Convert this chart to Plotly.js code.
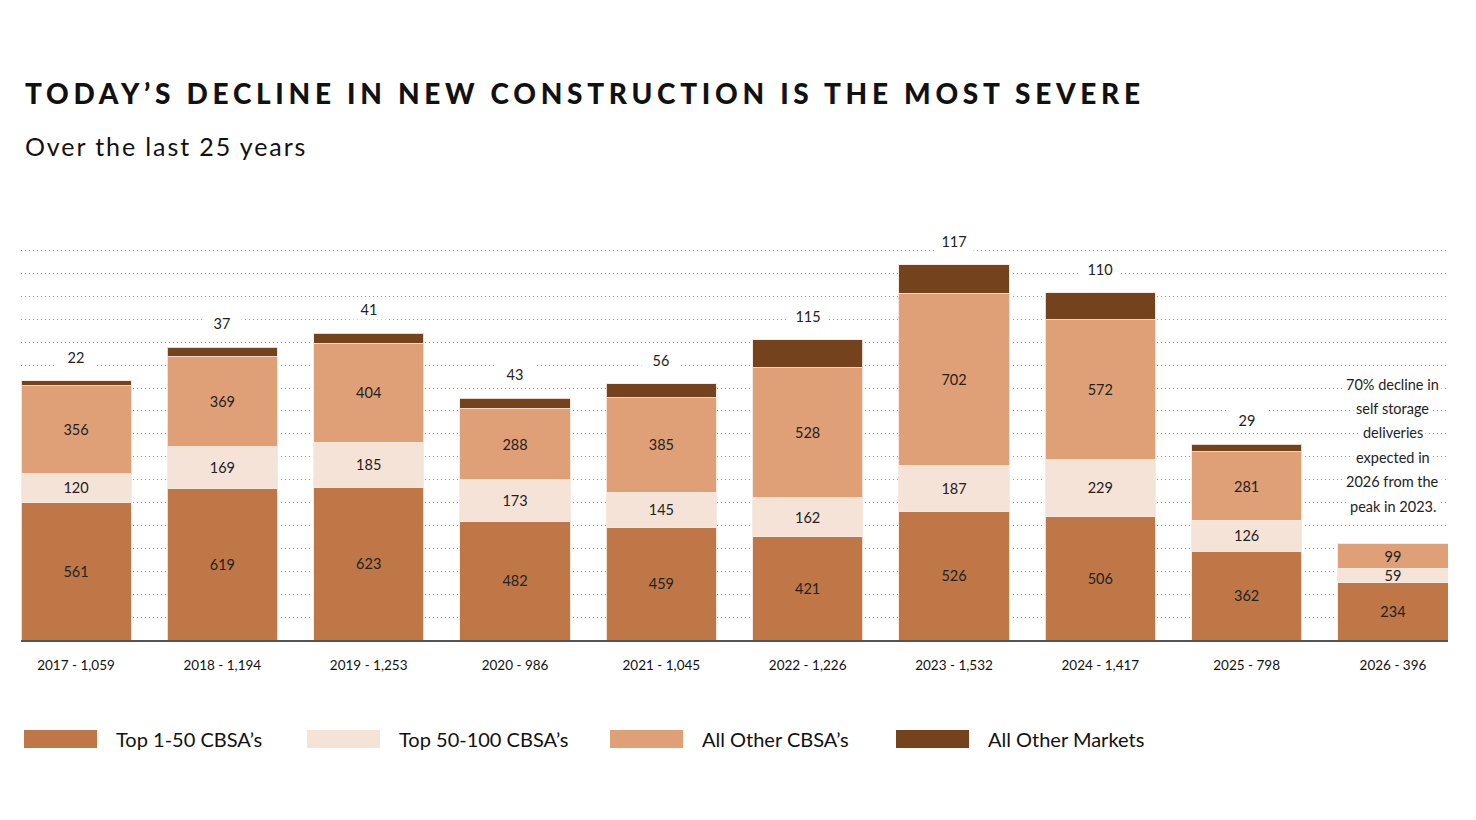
<!DOCTYPE html>
<html>
<head>
<meta charset="utf-8">
<script src="https://cdn.plot.ly/plotly-3.0.1.min.js"></script>
<style>
  html, body { margin: 0; padding: 0; background: #ffffff; }
  #chart { width: 1476px; height: 820px; }
</style>
</head>
<body>
<div id="chart"></div>
<script>
// ---- Data ----
var years = ['2017', '2018', '2019', '2020', '2021', '2022', '2023', '2024', '2025', '2026'];
var totals = ['1,059', '1,194', '1,253', '986', '1,045', '1,226', '1,532', '1,417', '798', '396'];
var top1to50 = [561, 619, 623, 482, 459, 421, 526, 506, 362, 234];
var top50to100 = [120, 169, 185, 173, 145, 162, 187, 229, 126, 59];
var allOtherCBSA = [356, 369, 404, 288, 385, 528, 702, 572, 281, 99];
var allOtherMarkets = [22, 37, 41, 43, 56, 115, 117, 110, 29, null];
var seriesNames = ['Top 1-50 CBSA\u2019s', 'Top 50-100 CBSA\u2019s', 'All Other CBSA\u2019s', 'All Other Markets'];
var noteLines = ['70% decline in', 'self storage', 'deliveries', 'expected in', '2026 from the', 'peak in 2023.'];

// ---- Styles ----
var colors = ['#BF7748', '#F5E3D7', '#DFA077', '#74431D'];
var FONT = 'Lato, "Open Sans", sans-serif';
var labels = years.map(function (y, i) { return y + ' - ' + totals[i]; });

// plot area geometry (pixels)
var W = 1476, H = 820;
var mL = 21, mR = 28, mT = 248, mB = 180;
var plotW = W - mL - mR, plotH = H - mT - mB;
function px2paperX(px) { return (px - mL) / plotW; }
function px2paperY(py) { return (H - mB - py) / plotH; }

function barTrace(vals, idx, showText) {
  return {
    type: 'bar',
    x: labels,
    y: vals,
    name: seriesNames[idx],
    marker: { color: colors[idx], line: { color: 'rgba(248,232,222,0.9)', width: 1 } },
    text: showText ? vals.map(function (v) { return v == null ? '' : String(v); }) : undefined,
    textposition: showText ? 'inside' : 'none',
    insidetextanchor: 'middle',
    textangle: 0,
    constraintext: 'none',
    textfont: { family: FONT, size: 14.5, color: '#222222' },
    hoverinfo: 'x+y+name',
    showlegend: false
  };
}

var data = [
  barTrace(top1to50, 0, true),
  barTrace(top50to100, 1, true),
  barTrace(allOtherCBSA, 2, true),
  barTrace(allOtherMarkets, 3, false)
];

// annotations: top labels for All Other Markets
var annotations = [];
labels.forEach(function (lab, i) {
  if (allOtherMarkets[i] == null) return;
  var stackTop = top1to50[i] + top50to100[i] + allOtherCBSA[i] + allOtherMarkets[i];
  annotations.push({
    x: lab, y: stackTop, xref: 'x', yref: 'y',
    text: String(allOtherMarkets[i]),
    showarrow: false, yshift: 24, yanchor: 'middle',
    bgcolor: '#ffffff', width: 36, height: 18,
    font: { family: FONT, size: 14.5, color: '#222222' }
  });
});

// side note
noteLines.forEach(function (line, k) {
  annotations.push({
    x: labels[labels.length - 1], xref: 'x',
    y: px2paperY(384 + k * 24.4), yref: 'paper',
    text: line, showarrow: false, yanchor: 'middle', xanchor: 'center',
    bgcolor: '#ffffff', borderpad: 2,
    font: { family: FONT, size: 14.5, color: '#222222' }
  });
});

// subtitle
annotations.push({
  x: px2paperX(23), xref: 'paper', y: px2paperY(146), yref: 'paper',
  xanchor: 'left', yanchor: 'middle', showarrow: false,
  text: '<span style="letter-spacing:1.9px">Over the last 25 years</span>',
  font: { family: FONT, size: 25, color: '#111111' }
});

// custom legend
var shapes = [];
var legendX = [24, 307, 610, 896];
seriesNames.forEach(function (nm, i) {
  shapes.push({
    type: 'rect', xref: 'paper', yref: 'paper',
    x0: px2paperX(legendX[i]), x1: px2paperX(legendX[i] + 73),
    y0: px2paperY(748), y1: px2paperY(730),
    fillcolor: colors[i], line: { width: 0 }
  });
  annotations.push({
    x: px2paperX(legendX[i] + 90), xref: 'paper', y: px2paperY(739), yref: 'paper',
    xanchor: 'left', yanchor: 'middle', showarrow: false,
    text: nm,
    font: { family: FONT, size: 20, color: '#111111' }
  });
});

var layout = {
  width: W, height: H,
  margin: { l: mL, r: mR, t: mT, b: mB, pad: 0 },
  paper_bgcolor: '#ffffff', plot_bgcolor: '#ffffff',
  barmode: 'stack',
  bargap: 0.248,
  showlegend: false,
  font: { family: FONT, color: '#111111' },
  title: {
    text: '<span style="letter-spacing:4.7px">TODAY\u2019S DECLINE IN NEW CONSTRUCTION IS THE MOST SEVERE</span>',
    font: { family: FONT, size: 28, weight: 900, color: '#111111' },
    xref: 'container', yref: 'container',
    x: 25 / W, xanchor: 'left', y: 1 - 94 / H, yanchor: 'middle'
  },
  xaxis: {
    type: 'category',
    range: [-0.376, 9.376],
    showgrid: false, zeroline: false,
    showline: true, linecolor: '#555555', linewidth: 1.5,
    ticks: '', ticklen: 0,
    tickfont: { family: FONT, size: 13.5, color: '#111111' },
    ticklabelstandoff: 12,
    fixedrange: true
  },
  yaxis: {
    range: [0, 1600],
    dtick: 93.5, tick0: 0,
    showgrid: true, gridcolor: '#9a9a9a', gridwidth: 1, griddash: '1px,3px',
    showticklabels: false, zeroline: false, showline: false, ticks: '',
    fixedrange: true
  },
  annotations: annotations,
  shapes: shapes
};

Plotly.newPlot('chart', data, layout, { displayModeBar: false, staticPlot: true });
</script>
</body>
</html>
